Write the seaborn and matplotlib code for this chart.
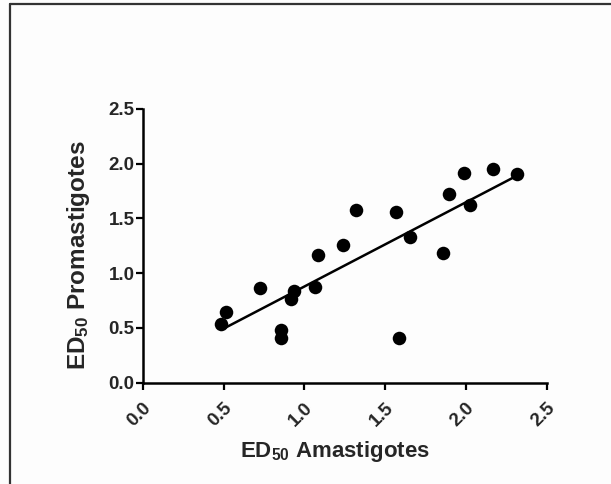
import matplotlib
matplotlib.use("Agg")
import matplotlib.pyplot as plt
import seaborn as sns
import pandas as pd
from matplotlib.lines import Line2D

# ED50 values for each isolate
amastigotes = [0.485, 0.513, 0.728, 0.854, 0.854, 0.916, 0.936, 1.066, 1.087, 1.241,
               1.318, 1.567, 1.588, 1.654, 1.856, 1.897, 1.986, 2.027, 2.166, 2.316]
promastigotes = [0.533, 0.643, 0.865, 0.478, 0.405, 0.762, 0.834, 0.877, 1.169, 1.260,
                 1.577, 1.562, 0.405, 1.333, 1.184, 1.726, 1.912, 1.620, 1.949, 1.903]

x_ticks = [0.0, 0.5, 1.0, 1.5, 2.0, 2.5]
y_ticks = [0.0, 0.5, 1.0, 1.5, 2.0, 2.5]

df = pd.DataFrame({"ama": amastigotes, "pro": promastigotes})

sns.set_theme(style="ticks")
plt.rcParams["font.family"] = ["Liberation Sans", "DejaVu Sans"]
plt.rcParams["font.weight"] = "bold"
plt.rcParams["mathtext.fontset"] = "custom"
plt.rcParams["mathtext.rm"] = "Liberation Sans:bold"
plt.rcParams["mathtext.it"] = "Liberation Sans:bold"
plt.rcParams["mathtext.bf"] = "Liberation Sans:bold"
plt.rcParams["mathtext.default"] = "rm"

fig = plt.figure(figsize=(6.11, 4.84), dpi=100, facecolor="#fdfdfd")
ax = fig.add_axes([0.2336, 0.2093, 0.6612, 0.5655])
ax.set_facecolor("#fdfdfd")

sns.regplot(data=df, x="ama", y="pro", ax=ax, ci=None, color="black",
            scatter_kws={"s": 95, "alpha": 1, "linewidths": 0},
            line_kws={"linewidth": 1.8})

ax.set_xlim(0, 2.5)
ax.set_ylim(0, 2.5)
ax.set_xticks(x_ticks)
ax.set_yticks(y_ticks)
ax.set_xticklabels([f"{v:.1f}" for v in x_ticks], rotation=45, ha="right",
                   rotation_mode="anchor", fontsize=13.5, fontweight="bold")
ax.set_yticklabels([f"{v:.1f}" for v in y_ticks], fontsize=13.5, fontweight="bold")
ax.tick_params(direction="out", length=5, width=1.6, color="black", pad=1)
ax.tick_params(axis="x", pad=7)

for side in ["left", "bottom"]:
    ax.spines[side].set_linewidth(1.8)
    ax.spines[side].set_color("black")
sns.despine(ax=ax)

ax.set_xlabel("ED$_{50}$ Amastigotes", fontsize=16, fontweight="bold")
ax.set_ylabel("ED$_{50}$ Promastigotes", fontsize=17.5, fontweight="bold")
ax.xaxis.set_label_coords(0.475, -0.205)
ax.yaxis.set_label_coords(-0.125, 0.467)

# Panel border along the top and left edges
fig.add_artist(Line2D([9.5 / 611, 9.5 / 611], [0, 1 - 3.5 / 484],
                      transform=fig.transFigure, color="#333333", linewidth=1.6))
fig.add_artist(Line2D([9.5 / 611, 1], [1 - 3.5 / 484, 1 - 3.5 / 484],
                      transform=fig.transFigure, color="#333333", linewidth=1.6))

fig.savefig("out.png", dpi=100, facecolor=fig.get_facecolor())
